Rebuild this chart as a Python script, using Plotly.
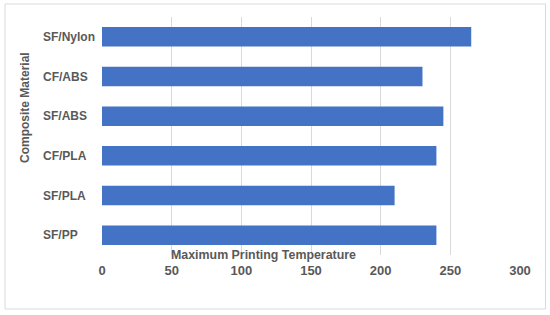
import plotly.graph_objects as go

materials = ["SF/Nylon", "CF/ABS", "SF/ABS", "CF/PLA", "SF/PLA", "SF/PP"]
max_temp = [265, 230, 245, 240, 210, 240]
x_ticks = [0, 50, 100, 150, 200, 250, 300]

W, H = 550, 315
L, R, T, B = 102, 30, 17, 60
pw, ph = W - L - R, H - T - B

def px(x):
    return (x - L) / pw

def py(y):
    return (H - B - y) / ph

txt = "#595959"
font_fam = "Liberation Sans, Arial, sans-serif"

fig = go.Figure(go.Bar(
    y=materials, x=max_temp, orientation="h",
    marker=dict(color="#4472C4", line=dict(width=0)),
))

annotations = []
for m in materials:
    annotations.append(dict(x=px(41), xref="paper", y=m, yref="y", text="<b>%s</b>" % m,
                            showarrow=False, xanchor="left", yanchor="middle",
                            font=dict(size=12, color=txt, family=font_fam)))
annotations.append(dict(x=px(263), xref="paper", y=py(255), yref="paper",
                        text="<b>Maximum Printing Temperature</b>", showarrow=False,
                        xanchor="center", yanchor="middle",
                        font=dict(size=12.4, color=txt, family=font_fam)))
annotations.append(dict(x=px(25), xref="paper", y=py(108), yref="paper",
                        text="<b>Composite Material</b>", showarrow=False, textangle=-90,
                        xanchor="center", yanchor="middle",
                        font=dict(size=12, color=txt, family=font_fam)))

fig.update_layout(
    width=W, height=H,
    margin=dict(l=L, r=R, t=T, b=B),
    paper_bgcolor="white", plot_bgcolor="white",
    bargap=0.51,
    showlegend=False,
    hovermode=False,
    xaxis=dict(range=[0, 300], tickvals=x_ticks, ticktext=[f"<b>{v}</b>" for v in x_ticks],
               showgrid=True, gridcolor="#d9d9d9", gridwidth=1, zeroline=False,
               showline=False, ticks="", ticklabelstandoff=6,
               tickfont=dict(size=13, color=txt, family=font_fam)),
    yaxis=dict(categoryorder="array", categoryarray=materials, autorange="reversed",
               showticklabels=False, showgrid=False, zeroline=False, showline=False, ticks=""),
    annotations=annotations,
    shapes=[dict(type="rect", xref="paper", yref="paper",
                 x0=px(5), x1=px(545.5), y0=py(309), y1=py(4),
                 line=dict(color="#d9d9d9", width=1), fillcolor="rgba(0,0,0,0)", layer="below")],
)

fig.write_html("out.html", config={"displayModeBar": False},
               post_script="document.body.style.margin='0';")
